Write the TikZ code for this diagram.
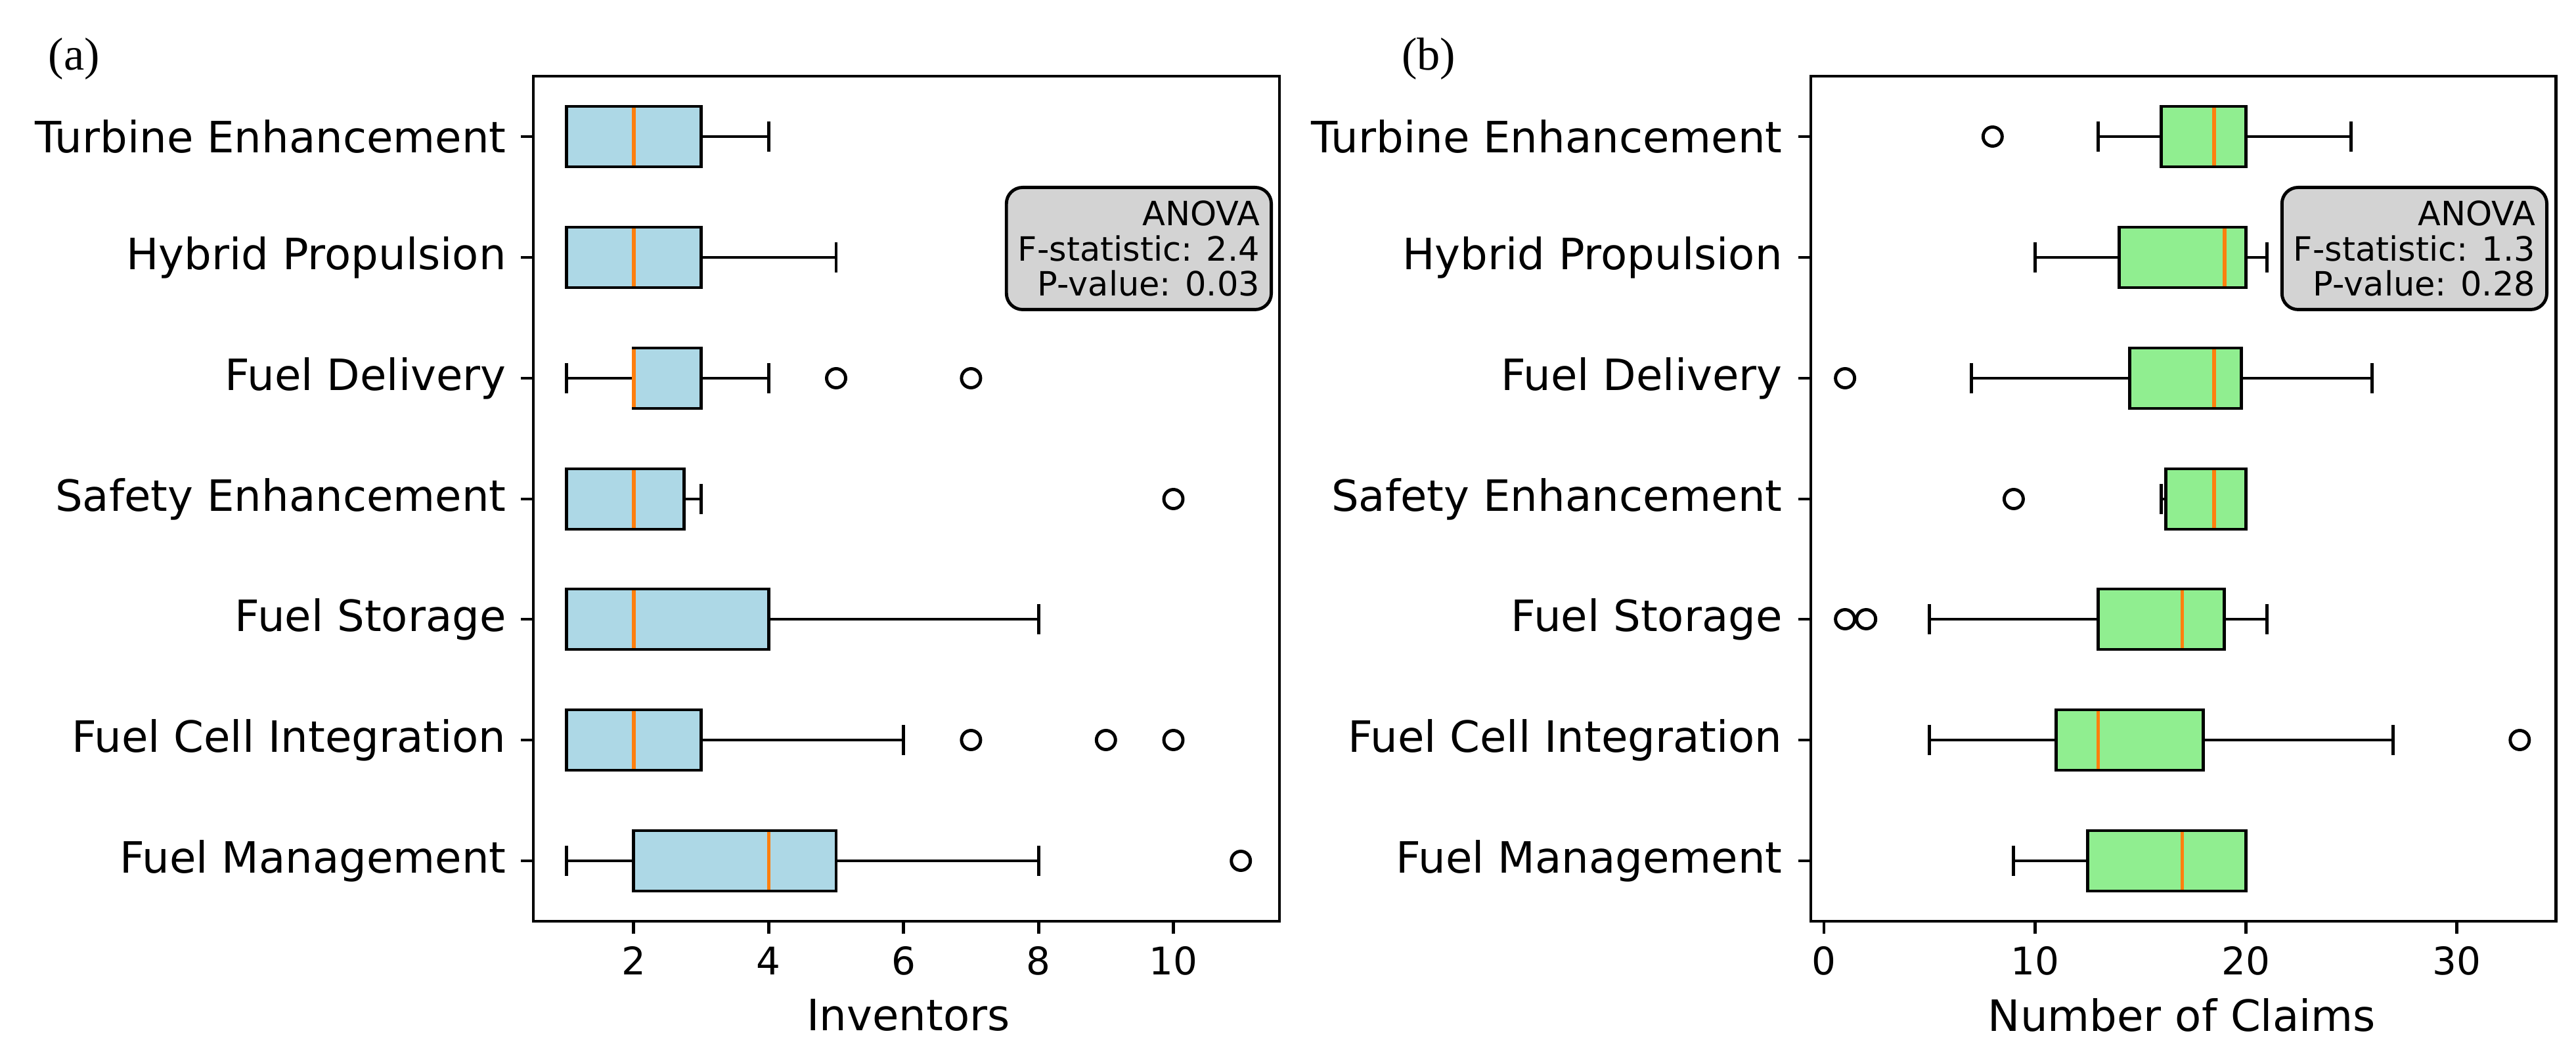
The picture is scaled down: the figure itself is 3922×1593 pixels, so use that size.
\documentclass[tikz,border=0pt]{standalone}
\usepackage{fontspec}
\setmainfont{DejaVu Sans}
\newfontfamily\tnr{Liberation Serif}
\definecolor{lblue}{HTML}{ADD8E6}
\definecolor{lgreen}{HTML}{90EE90}
\definecolor{medc}{HTML}{FF7F0E}
\definecolor{anov}{HTML}{D3D3D3}
\newcommand\boxrow[9]{%
 \draw ({#1+#4*#2},#3) -- ({#1+#5*#2},#3);
 \draw ({#1+#7*#2},#3) -- ({#1+#8*#2},#3);
 \draw ({#1+#4*#2},{#3-23}) -- ({#1+#4*#2},{#3+23});
 \draw ({#1+#8*#2},{#3-23}) -- ({#1+#8*#2},{#3+23});
 \draw[fill=#9] ({#1+#5*#2},{#3-46}) rectangle ({#1+#7*#2},{#3+46});
 \draw[medc,line width=1.5pt] ({#1+#6*#2},{#3-44}) -- ({#1+#6*#2},{#3+44});
}
\begin{document}
\begin{tikzpicture}[x=0.1mm,y=-0.1mm,line width=1.4pt,
  cat/.style={anchor=east,inner sep=0pt,font=\fontsize{18.7pt}{22pt}\selectfont},
  tick/.style={font=\fontsize{16.5pt}{19pt}\selectfont},
  axl/.style={font=\fontsize{18.7pt}{22pt}\selectfont},
  anv/.style={draw,rounded corners=7pt,fill=anov,line width=1.4pt,align=right,inner sep=5pt,font=\fontsize{14.5pt}{15.3pt}\selectfont},
  pl/.style={font=\tnr\fontsize{20pt}{24pt}\selectfont}]
\useasboundingbox (0,0) rectangle (3922,1593);
% panel a
\node[pl] (la) at (113,90) {(a)};
\draw (812,116) rectangle (1948,1403);
\foreach \y/\t [count=\i] in {208/Turbine Enhancement,392/Hybrid Propulsion,576/Fuel Delivery,760/Safety Enhancement,943/Fuel Storage,1127/Fuel Cell Integration,1311/Fuel Management}{
  \draw (812,\y) -- (793,\y);
  \node[cat] (ca\i) at (773,\y) {\t};
  \draw (2757,\y) -- (2738,\y);
  \node[cat] (cb\i) at (2716,\y) {\t};
}
\def\A{759.5}\def\S{102.7}
\foreach \v in {2,4,6,8,10}{
  \draw ({\A+\v*\S},1403) -- ({\A+\v*\S},1422);
  \node[tick] (ta\v) at ({\A+\v*\S},1463) {\v};
}
\node[axl] (xa) at (1383,1546) {Inventors};
\boxrow{\A}{\S}{208}{1}{1}{2}{3}{4}{lblue}
\boxrow{\A}{\S}{392}{1}{1}{2}{3}{5}{lblue}
\boxrow{\A}{\S}{576}{1}{2}{2}{3}{4}{lblue}
\boxrow{\A}{\S}{760}{1}{1}{2}{2.75}{3}{lblue}
\boxrow{\A}{\S}{943}{1}{1}{2}{4}{8}{lblue}
\boxrow{\A}{\S}{1127}{1}{1}{2}{3}{6}{lblue}
\boxrow{\A}{\S}{1311}{1}{2}{4}{5}{8}{lblue}
\foreach \v/\y in {5/576,7/576,10/760,7/1127,9/1127,10/1127,11/1311}
  \draw ({\A+\v*\S},\y) circle (14.5);
\node[anv,anchor=north east,minimum height=18.6mm] (anova) at (1938,283) {ANOVA\\F-statistic: 2.4\\P-value: 0.03};
% panel b
\node[pl] (lb) at (2175,90) {(b)};
\draw (2757,116) rectangle (3891,1403);
\def\B{2777}\def\T{32.1}
\foreach \v in {0,10,20,30}{
  \draw ({\B+\v*\T},1403) -- ({\B+\v*\T},1422);
  \node[tick] (tb\v) at ({\B+\v*\T},1463) {\v};
}
\node[axl] (xb) at (3322,1546) {Number of Claims};
\boxrow{\B}{\T}{208}{13}{16}{18.5}{20}{25}{lgreen}
\boxrow{\B}{\T}{392}{10}{14}{19}{20}{21}{lgreen}
\boxrow{\B}{\T}{576}{7}{14.5}{18.5}{19.8}{26}{lgreen}
\boxrow{\B}{\T}{760}{16}{16.2}{18.5}{20}{20}{lgreen}
\boxrow{\B}{\T}{943}{5}{13}{17}{19}{21}{lgreen}
\boxrow{\B}{\T}{1127}{5}{11}{13}{18}{27}{lgreen}
\boxrow{\B}{\T}{1311}{9}{12.5}{17}{20}{20}{lgreen}
\foreach \v/\y in {8/208,1/576,9/760,1/943,2/943,33/1127}
  \draw ({\B+\v*\T},\y) circle (14.5);
\node[anv,anchor=north east,minimum height=18.6mm] (anovb) at (3880,283) {ANOVA\\F-statistic: 1.3\\P-value: 0.28};
\end{tikzpicture}
\end{document}
